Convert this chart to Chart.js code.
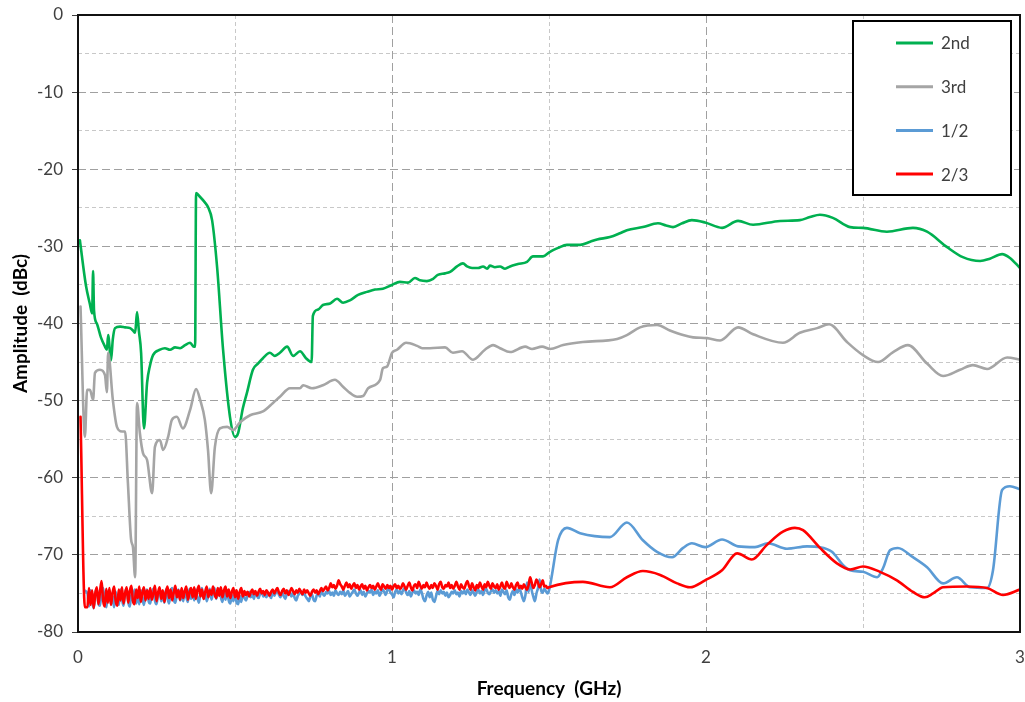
<!DOCTYPE html>
<html>
<head>
<meta charset="utf-8">
<script src="https://cdn.jsdelivr.net/npm/chart.js@4.4.1/dist/chart.umd.min.js"></script>
<style>
html,body{margin:0;padding:0;background:#fff;}
#wrap{width:1025px;height:702px;}
</style>
</head>
<body>
<div id="wrap"><canvas id="c" width="1025" height="702"></canvas></div>
<script>
// ---------------- DATA ----------------
const seriesLabels = ["2nd", "3rd", "1/2", "2/3"];
const seriesColors = ["#00b050", "#a5a5a5", "#5b9bd5", "#ff0000"];
const xTickLabels = ["0", "1", "2", "3"];
const yTickLabels = ["0", "-10", "-20", "-30", "-40", "-50", "-60", "-70", "-80"];

// 2nd harmonic
const secondFreq = [0.006,0.025,0.038,0.045,0.048,0.051,0.06,0.073,0.086,0.092,0.096,0.105,0.111,0.118,0.134,0.15,0.166,0.175,0.182,0.188,0.194,0.201,0.21,0.22,0.229,0.239,0.261,0.277,0.293,0.309,0.325,0.341,0.357,0.369,0.373,0.376,0.389,0.404,0.414,0.427,0.443,0.462,0.484,0.5,0.51,0.525,0.538,0.557,0.573,0.589,0.611,0.627,0.643,0.666,0.685,0.707,0.726,0.744,0.748,0.764,0.78,0.803,0.825,0.844,0.866,0.892,0.92,0.946,0.971,1.0,1.025,1.051,1.073,1.089,1.111,1.131,1.146,1.169,1.185,1.207,1.226,1.239,1.255,1.274,1.29,1.303,1.312,1.328,1.344,1.36,1.376,1.401,1.43,1.449,1.481,1.503,1.529,1.557,1.599,1.631,1.653,1.694,1.726,1.748,1.799,1.847,1.873,1.895,1.924,1.955,1.997,2.051,2.102,2.15,2.236,2.299,2.331,2.363,2.404,2.459,2.5,2.576,2.659,2.704,2.768,2.818,2.873,2.904,2.943,2.968,3.0];
const secondAmp = [-29.2,-35.0,-37.5,-38.7,-33.2,-38.3,-40.0,-41.8,-43.0,-43.4,-41.5,-44.8,-42.0,-40.6,-40.4,-40.5,-40.6,-40.9,-41.2,-38.5,-41.0,-43.8,-53.6,-47.7,-45.5,-44.1,-43.4,-43.2,-43.4,-43.1,-43.2,-42.8,-42.5,-43.0,-43.0,-23.1,-23.6,-24.3,-24.9,-26.6,-32.7,-43.4,-52.1,-54.7,-54.2,-51.0,-49.0,-46.0,-45.2,-44.5,-43.8,-44.2,-43.8,-43.0,-44.2,-43.6,-44.5,-45.0,-39.0,-38.2,-37.6,-37.4,-36.8,-37.3,-37.0,-36.3,-35.9,-35.6,-35.5,-35.0,-34.6,-34.7,-34.1,-34.4,-34.5,-34.2,-33.7,-33.5,-33.3,-32.6,-32.2,-32.6,-32.8,-32.8,-32.6,-32.9,-32.5,-32.7,-32.6,-32.9,-32.6,-32.3,-32.0,-31.3,-31.3,-30.7,-30.2,-29.8,-29.8,-29.4,-29.1,-28.8,-28.3,-27.9,-27.5,-27.0,-27.3,-27.5,-27.0,-26.6,-26.9,-27.6,-26.7,-27.2,-26.7,-26.6,-26.2,-25.9,-26.3,-27.5,-27.6,-28.1,-27.6,-28.1,-30.1,-31.4,-31.9,-31.6,-31.0,-31.5,-32.8];

// 3rd harmonic
const thirdFreq = [0.008,0.022,0.029,0.038,0.048,0.054,0.07,0.086,0.092,0.096,0.111,0.124,0.14,0.15,0.159,0.169,0.175,0.182,0.188,0.197,0.207,0.22,0.236,0.245,0.261,0.271,0.287,0.299,0.315,0.334,0.357,0.376,0.389,0.404,0.414,0.424,0.436,0.452,0.475,0.494,0.516,0.548,0.589,0.621,0.643,0.675,0.707,0.717,0.745,0.78,0.818,0.844,0.866,0.889,0.908,0.924,0.962,0.971,0.984,1.0,1.016,1.045,1.08,1.096,1.121,1.169,1.194,1.223,1.258,1.296,1.322,1.344,1.376,1.424,1.446,1.478,1.503,1.545,1.608,1.717,1.748,1.79,1.844,1.885,1.927,1.959,2.003,2.045,2.102,2.15,2.245,2.299,2.354,2.392,2.449,2.5,2.548,2.596,2.643,2.704,2.755,2.809,2.85,2.895,2.959,3.0];
const thirdAmp = [-37.8,-54.7,-48.6,-48.6,-49.9,-46.4,-46.0,-46.7,-48.9,-43.8,-49.9,-53.4,-54.0,-54.0,-60.7,-68.0,-69.0,-72.9,-50.3,-54.2,-56.8,-57.7,-62.0,-56.0,-55.1,-56.4,-54.7,-52.5,-52.1,-53.6,-51.2,-48.5,-49.9,-52.5,-56.4,-62.0,-56.0,-53.6,-53.4,-53.8,-52.8,-51.9,-51.4,-50.3,-49.5,-48.4,-48.4,-48.0,-48.4,-48.0,-47.3,-48.2,-49.0,-49.5,-49.4,-48.4,-47.3,-45.8,-45.6,-43.8,-43.4,-42.5,-42.9,-43.2,-43.2,-43.1,-43.8,-43.6,-44.7,-43.4,-42.8,-43.2,-43.7,-43.0,-43.3,-43.0,-43.3,-42.8,-42.4,-42.0,-41.5,-40.5,-40.2,-40.9,-41.5,-41.8,-41.9,-42.2,-40.5,-41.4,-42.5,-41.2,-40.6,-40.1,-42.4,-44.1,-45.0,-43.7,-42.8,-45.2,-46.8,-46.0,-45.4,-45.9,-44.4,-44.7];

// noise floor sweep (0.03 .. 1.50 GHz, 0.005 GHz steps), one row per 0.1 GHz
const noiseStart = 0.03, noiseStep = 0.005;
const halfNoiseAmp = [
-75.0,-76.7,-74.6,-76.1,-76.9,-75.0,-74.4,-76.3,-76.6,-74.8,-74.3,-76.0,-76.8,-75.2,-74.6,-76.4,-75.3,-76.8,-74.8,-75.9,
-76.5,-74.5,-75.7,-76.6,-74.9,-74.4,-76.1,-76.7,-75.1,-75.9,-74.5,-76.3,-75.2,-76.4,-74.6,-75.6,-76.5,-75.0,-74.5,-76.0,
-76.3,-75.0,-74.4,-75.9,-76.4,-75.1,-74.6,-76.0,-75.2,-76.2,-74.5,-75.6,-76.3,-74.8,-74.3,-75.8,-76.2,-75.0,-74.5,-75.9,
-75.1,-76.0,-74.6,-75.5,-76.1,-74.4,-75.7,-74.8,-75.9,-74.5,-75.5,-76.2,-75.0,-74.3,-75.7,-74.8,-76.0,-75.2,-74.4,-75.8,
-74.9,-74.3,-75.7,-75.0,-74.4,-75.5,-76.1,-74.8,-75.8,-74.6,-75.9,-76.3,-75.2,-76.0,-74.9,-76.2,-76.4,-75.3,-76.1,-75.0,
-75.6,-75.9,-75.2,-74.8,-75.5,-75.1,-75.7,-74.9,-75.3,-75.6,-75.0,-74.7,-75.4,-75.1,-75.5,-74.9,-75.2,-75.6,-74.8,-75.3,
-74.9,-74.6,-75.2,-75.5,-74.8,-75.3,-75.7,-75.1,-74.7,-75.0,-75.4,-74.8,-75.6,-75.9,-75.3,-75.0,-74.7,-75.2,-74.9,-75.4,
-75.7,-76.0,-75.4,-75.1,-75.8,-76.0,-75.3,-74.9,-75.4,-74.6,-75.1,-75.3,-74.8,-75.0,-74.7,-75.2,-74.9,-75.3,-74.6,-75.0,
-75.2,-74.8,-75.1,-74.6,-75.3,-75.0,-74.7,-75.4,-75.1,-74.8,-74.5,-75.0,-75.3,-74.9,-74.6,-75.2,-74.8,-75.4,-75.0,-74.7,
-74.9,-74.5,-75.2,-74.8,-75.0,-74.6,-75.3,-74.9,-74.5,-74.8,-75.2,-74.6,-74.3,-74.9,-75.1,-75.5,-74.8,-74.5,-75.0,-74.7,
-75.1,-74.6,-74.3,-74.9,-75.2,-74.7,-75.4,-74.9,-74.6,-75.0,-74.8,-75.2,-74.5,-74.9,-75.7,-76.0,-75.3,-74.8,-75.5,-74.9,
-75.8,-76.1,-75.4,-74.7,-75.1,-74.6,-75.0,-74.8,-75.3,-74.9,-75.5,-75.2,-74.8,-75.0,-74.6,-75.1,-74.9,-75.4,-74.7,-75.0,
-74.7,-75.1,-74.5,-74.9,-75.2,-74.6,-74.9,-75.3,-74.8,-74.5,-75.0,-74.7,-75.2,-74.6,-74.4,-74.9,-75.1,-74.7,-74.5,-74.9,
-74.6,-75.0,-74.7,-75.3,-74.5,-74.8,-75.1,-74.6,-75.5,-75.8,-75.1,-74.7,-75.2,-74.5,-74.9,-74.3,-74.8,-75.5,-76.0,-75.2,
-73.6,-74.8,-73.0,-74.6,-75.4,-76.0,-75.0,-74.3,-73.2,-74.6,-74.9,-74.4,-74.7,-75.0,-74.6];
const twoThirdNoiseAmp = [
-76.8,-74.3,-76.5,-74.6,-76.9,-75.0,-74.2,-76.4,-74.8,-73.4,-75.9,-76.7,-74.4,-76.2,-74.3,-76.5,-74.9,-74.1,-76.0,-76.6,
-74.5,-75.9,-74.2,-76.3,-75.0,-74.2,-76.2,-74.7,-74.0,-76.0,-76.4,-74.5,-75.6,-74.1,-76.1,-74.9,-74.2,-75.9,-74.6,-75.7,
-74.3,-75.8,-75.0,-74.0,-76.0,-74.9,-74.2,-75.7,-74.6,-76.1,-74.8,-74.1,-75.6,-74.5,-75.9,-74.9,-74.0,-75.5,-74.6,-75.8,
-74.3,-75.6,-74.7,-74.1,-75.8,-74.9,-74.3,-75.5,-74.2,-75.7,-74.6,-74.0,-75.4,-74.5,-75.7,-74.8,-74.1,-75.5,-74.6,-75.2,
-74.1,-75.1,-75.6,-74.3,-75.3,-74.2,-75.5,-74.6,-74.1,-75.4,-74.5,-75.6,-74.8,-74.3,-75.5,-74.6,-75.7,-74.8,-74.3,-75.4,
-74.7,-75.2,-74.8,-75.4,-74.9,-74.5,-75.1,-74.7,-75.3,-74.8,-74.4,-75.0,-74.7,-75.2,-74.6,-74.9,-75.3,-74.8,-74.5,-75.0,
-74.6,-74.3,-74.9,-75.2,-74.7,-74.4,-75.0,-74.6,-75.2,-74.8,-74.3,-74.7,-75.1,-74.6,-74.9,-74.4,-74.8,-75.1,-74.5,-74.9,
-74.6,-75.0,-75.3,-74.8,-74.5,-74.9,-74.6,-75.1,-74.7,-74.3,-74.7,-74.4,-74.1,-74.6,-74.3,-73.7,-74.2,-73.9,-74.4,-74.0,
-73.3,-73.8,-74.1,-74.5,-74.0,-73.6,-74.2,-73.8,-74.4,-74.0,-73.7,-74.3,-73.9,-74.5,-74.1,-73.8,-74.4,-74.0,-74.6,-74.2,
-73.9,-74.3,-74.0,-74.5,-74.1,-73.7,-74.2,-74.5,-73.8,-74.1,-74.4,-73.9,-74.3,-74.0,-74.5,-74.1,-73.8,-74.3,-74.0,-74.4,
-74.2,-73.7,-74.1,-74.5,-74.0,-73.6,-74.2,-74.6,-74.0,-73.8,-74.3,-73.5,-74.0,-74.4,-73.9,-74.2,-73.6,-74.1,-74.4,-73.9,
-74.3,-73.7,-74.0,-74.5,-73.8,-73.5,-74.2,-74.4,-73.9,-74.1,-73.6,-74.3,-73.9,-74.4,-74.0,-73.5,-74.1,-74.5,-73.8,-74.2,
-74.4,-73.8,-73.4,-74.0,-74.5,-73.7,-74.2,-74.6,-73.9,-74.3,-73.6,-74.1,-74.5,-73.8,-74.2,-73.5,-74.0,-74.4,-73.7,-74.1,
-74.3,-73.8,-74.5,-74.1,-73.6,-74.2,-74.4,-73.5,-74.0,-74.3,-73.7,-74.2,-74.5,-73.9,-73.6,-74.3,-74.0,-74.4,-73.8,-74.2,
-74.5,-73.9,-72.9,-73.6,-74.3,-73.9,-73.2,-73.6,-74.2,-73.8,-73.3,-74.1,-74.0,-74.3,-74.2];

// 1/2 sub-harmonic: start and tail beyond the noise sweep
const halfHeadFreq = [0.02];
const halfHeadAmp = [-74.6];
const halfTailFreq = [1.529,1.557,1.599,1.694,1.748,1.799,1.844,1.892,1.927,1.955,1.997,2.051,2.102,2.156,2.197,2.258,2.322,2.363,2.401,2.436,2.459,2.5,2.545,2.564,2.586,2.611,2.659,2.704,2.755,2.799,2.841,2.895,2.914,2.943,2.968,3.0];
const halfTailAmp = [-68.1,-66.5,-67.2,-67.7,-65.8,-68.1,-69.6,-70.3,-69.1,-68.5,-69.0,-68.0,-68.9,-69.0,-68.5,-69.2,-68.9,-69.0,-69.6,-71.3,-72.0,-72.2,-72.9,-71.7,-69.4,-69.1,-70.3,-71.6,-73.7,-72.9,-74.2,-74.3,-72.0,-61.6,-61.1,-61.5];

// 2/3 sub-harmonic: start and tail
const twoThirdHeadFreq = [0.008,0.022];
const twoThirdHeadAmp = [-52.1,-76.8];
const twoThirdTailFreq = [1.608,1.694,1.748,1.799,1.854,1.908,1.949,1.997,2.051,2.099,2.146,2.194,2.245,2.283,2.309,2.363,2.417,2.459,2.5,2.554,2.608,2.659,2.697,2.723,2.755,2.831,2.895,2.946,3.0];
const twoThirdTailAmp = [-73.5,-74.2,-72.9,-72.1,-72.6,-73.7,-74.2,-73.3,-72.0,-69.8,-70.6,-68.7,-67.0,-66.5,-66.8,-69.1,-71.1,-71.9,-71.5,-72.2,-73.3,-74.8,-75.5,-75.0,-74.2,-74.1,-74.3,-75.2,-74.5];

// ---------------- BUILD ----------------
function pts(xs, ys) { return xs.map((x, i) => ({ x: x, y: ys[i] })); }
const noiseFreq = halfNoiseAmp.map((_, i) => +(noiseStart + i * noiseStep).toFixed(3));

const datasets = [
  { label: seriesLabels[0], data: pts(secondFreq, secondAmp), borderColor: seriesColors[0], order: 3 },
  { label: seriesLabels[1], data: pts(thirdFreq, thirdAmp), borderColor: seriesColors[1], order: 2 },
  { label: seriesLabels[2], data: pts(halfHeadFreq.concat(noiseFreq, halfTailFreq), halfHeadAmp.concat(halfNoiseAmp, halfTailAmp)), borderColor: seriesColors[2], order: 1 },
  { label: seriesLabels[3], data: pts(twoThirdHeadFreq.concat(noiseFreq, twoThirdTailFreq), twoThirdHeadAmp.concat(twoThirdNoiseAmp, twoThirdTailAmp)), borderColor: seriesColors[3], order: 0 }
].map(d => Object.assign(d, {
  borderWidth: 2.6, pointRadius: 0, fill: false, cubicInterpolationMode: 'monotone', borderJoinStyle: 'round', borderCapStyle: 'round'
}));

const isMajorY = v => Math.abs(v % 10) < 1e-6;
const isMajorX = v => Math.abs(v - Math.round(v)) < 1e-6;
const FONT = 'Lato, "Open Sans", sans-serif';

const framePlugin = {
  id: 'frameAndLegend',
  afterDatasetsDraw(chart) {
    const { ctx, chartArea: a } = chart;
    ctx.save();
    ctx.setLineDash([]);
    ctx.strokeStyle = '#111';
    ctx.lineWidth = 2;
    ctx.strokeRect(a.left, a.top, a.right - a.left, a.bottom - a.top);
    // legend box
    const bx = 853, by = 21, bw = 158, bh = 174;
    ctx.fillStyle = '#fff';
    ctx.fillRect(bx, by, bw, bh);
    ctx.strokeStyle = '#000';
    ctx.lineWidth = 2;
    ctx.strokeRect(bx, by, bw, bh);
    ctx.font = '17px ' + FONT;
    ctx.textBaseline = 'middle';
    ctx.textAlign = 'left';
    chart.data.datasets.forEach((d, i) => {
      const y = 43 + i * 43.7;
      ctx.strokeStyle = d.borderColor;
      ctx.lineWidth = 3;
      ctx.beginPath();
      ctx.moveTo(896, y);
      ctx.lineTo(933, y);
      ctx.stroke();
      ctx.fillStyle = '#404040';
      ctx.fillText(d.label, 941, y + 1);
    });
    ctx.restore();
  }
};

new Chart(document.getElementById('c'), {
  type: 'line',
  data: { datasets: datasets },
  plugins: [framePlugin],
  options: {
    responsive: false,
    animation: false,
    layout: { padding: { left: 0, top: 15, right: 5, bottom: 0 } },
    plugins: { legend: { display: false }, tooltip: { enabled: false } },
    scales: {
      x: {
        type: 'linear', min: 0, max: 3,
        afterFit: s => { s.height = 70; s.paddingLeft = 0; s.paddingRight = 0; },
        ticks: {
          stepSize: 0.5, padding: 15, color: '#404040',
          font: { family: FONT, size: 17 },
          maxRotation: 0, autoSkip: false,
          callback: v => isMajorX(v) ? xTickLabels[Math.round(v)] : ''
        },
        grid: {
          drawTicks: false,
          color: c => isMajorX(c.tick.value) ? '#a0a0a0' : '#c8c8c8',
          lineWidth: 1
        },
        border: { display: false, dash: c => (c.tick && isMajorX(c.tick.value)) ? [8, 4] : [4, 3] },
        title: {
          display: true, text: 'Frequency  (GHz)', color: '#000',
          font: { family: FONT, size: 19, weight: 'bold' },
          padding: { top: 0, bottom: 2 }
        }
      },
      y: {
        type: 'linear', min: -80, max: 0,
        afterFit: s => { s.width = 78; s.paddingTop = 0; s.paddingBottom = 0; },
        ticks: {
          stepSize: 5, padding: 9, color: '#404040',
          font: { family: FONT, size: 17 },
          autoSkip: false,
          callback: v => isMajorY(v) ? yTickLabels[Math.round(-v / 10)] : ''
        },
        grid: {
          drawTicks: true, tickLength: 6,
          tickColor: c => isMajorY(c.tick.value) ? '#404040' : 'rgba(0,0,0,0)',
          color: c => isMajorY(c.tick.value) ? '#a0a0a0' : '#c8c8c8',
          lineWidth: 1
        },
        border: { display: false, dash: c => (c.tick && isMajorY(c.tick.value)) ? [8, 4] : [4, 3] },
        title: {
          display: true, text: 'Amplitude  (dBc)', color: '#000',
          font: { family: FONT, size: 19, weight: 'bold' },
          padding: { top: 9, bottom: 0 }
        }
      }
    }
  }
});
</script>
</body>
</html>
